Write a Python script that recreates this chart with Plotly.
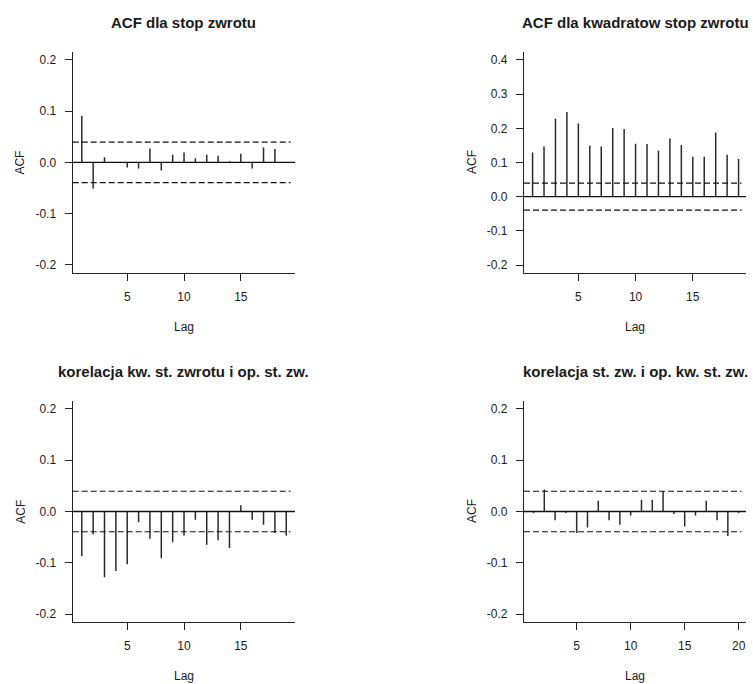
import plotly.graph_objects as go

# ---------------- data ----------------
lags_19 = list(range(1, 20))
lags_20 = list(range(1, 21))

acf_returns = [0.091, -0.051, 0.010, 0.000, -0.010, -0.012, 0.027, -0.016, 0.015, 0.019,
               0.008, 0.015, 0.013, 0.002, 0.017, -0.012, 0.029, 0.026, 0.000]
acf_sq_returns = [0.129, 0.147, 0.228, 0.248, 0.214, 0.150, 0.147, 0.201, 0.198, 0.155,
                  0.154, 0.134, 0.170, 0.151, 0.117, 0.117, 0.188, 0.123, 0.110]
ccf_sq_lag_ret = [-0.087, -0.045, -0.128, -0.116, -0.103, -0.021, -0.053, -0.091, -0.060, -0.047,
                  -0.016, -0.065, -0.056, -0.071, 0.012, -0.016, -0.026, -0.042, -0.047]
ccf_ret_lag_sq = [-0.003, 0.043, -0.017, -0.003, -0.042, -0.031, 0.021, -0.017, -0.026, -0.008,
                  0.023, 0.023, 0.040, -0.005, -0.029, -0.008, 0.021, -0.017, -0.048, -0.003]

conf_band = 0.0395

titles = ["ACF dla stop zwrotu", "ACF dla kwadratow stop zwrotu",
          "korelacja kw. st. zwrotu i op. st. zw.", "korelacja st. zw. i op. kw. st. zw."]
y_title = "ACF"
x_title = "Lag"

panels = [
    dict(lags=lags_19, vals=acf_returns, yr=[-0.216, 0.216], yt=[-0.2, -0.1, 0.0, 0.1, 0.2],
         xr=[0.2, 19.77], xt=[5, 10, 15]),
    dict(lags=lags_19, vals=acf_sq_returns, yr=[-0.224, 0.424], yt=[-0.2, -0.1, 0.0, 0.1, 0.2, 0.3, 0.4],
         xr=[0.25, 19.65], xt=[5, 10, 15]),
    dict(lags=lags_19, vals=ccf_sq_lag_ret, yr=[-0.216, 0.216], yt=[-0.2, -0.1, 0.0, 0.1, 0.2],
         xr=[0.2, 19.77], xt=[5, 10, 15]),
    dict(lags=lags_20, vals=ccf_ret_lag_sq, yr=[-0.216, 0.216], yt=[-0.2, -0.1, 0.0, 0.1, 0.2],
         xr=[0.12, 20.68], xt=[5, 10, 15, 20]),
]

# ---------------- layout geometry (pixels) ----------------
W, H = 753, 684
boxes = [  # left, right, top, bottom in px
    (72.7, 295.0, 51.7, 273.0),
    (524.0, 746.0, 51.7, 273.3),
    (72.7, 295.0, 400.7, 622.3),
    (524.0, 746.0, 400.7, 622.3),
]

FONT = "Liberation Sans, Arial, sans-serif"
INK = "#1a1a1a"
fig = go.Figure()
layout = dict(width=W, height=H, margin=dict(l=0, r=0, t=0, b=0),
              paper_bgcolor="white", plot_bgcolor="white", showlegend=False,
              font=dict(family=FONT, size=12, color=INK))
annotations = []
shapes = []

for i, (p, b) in enumerate(zip(panels, boxes)):
    n = i + 1
    xa = "xaxis" if n == 1 else f"xaxis{n}"
    ya = "yaxis" if n == 1 else f"yaxis{n}"
    xref = "x" if n == 1 else f"x{n}"
    yref = "y" if n == 1 else f"y{n}"
    l, r, t, bt = b
    layout[xa] = dict(domain=[l / W, r / W], range=p["xr"], tickvals=p["xt"],
                      showgrid=False, zeroline=False, showline=True, linecolor="#222",
                      linewidth=1.3, ticks="outside", ticklen=7, tickwidth=1.3,
                      tickcolor="#222", ticklabelstandoff=5, anchor=yref,
                      tickfont=dict(size=12, color=INK, family=FONT))
    layout[ya] = dict(domain=[1 - bt / H, 1 - t / H], range=p["yr"], tickvals=p["yt"],
                      ticktext=[f"{v:.1f}" for v in p["yt"]],
                      showgrid=False, zeroline=False, showline=True, linecolor="#222",
                      linewidth=1.3, ticks="outside", ticklen=7, tickwidth=1.3,
                      tickcolor="#222", ticklabelstandoff=6, anchor=xref,
                      tickfont=dict(size=12, color=INK, family=FONT))

    # spikes
    xs, ys = [], []
    for lag, v in zip(p["lags"], p["vals"]):
        xs += [lag, lag, None]
        ys += [0, v, None]
    fig.add_trace(go.Scatter(x=xs, y=ys, mode="lines", xaxis=xref, yaxis=yref,
                             line=dict(color="#2b2b2b", width=1.5), hoverinfo="skip"))

    # zero line and confidence bands
    shapes.append(dict(type="line", xref=f"{xref} domain", yref=yref, x0=0, x1=1, y0=0, y1=0,
                       line=dict(color="#111", width=1.3)))
    for s in (conf_band, -conf_band):
        shapes.append(dict(type="line", xref=f"{xref} domain", yref=yref, x0=0, x1=0.98,
                           y0=s, y1=s, line=dict(color="#111", width=1.2, dash="6px,3px")))

    cx = (l + r) / 2
    ty = t - 29.5
    annotations.append(dict(text=f"<b>{titles[i]}</b>", xref="paper", yref="paper",
                            x=cx / W, y=1 - ty / H, showarrow=False, xanchor="center",
                            yanchor="middle", font=dict(size=15, family=FONT, color=INK)))
    annotations.append(dict(text=x_title, xref="paper", yref="paper",
                            x=cx / W, y=1 - (bt + 54) / H, showarrow=False,
                            xanchor="center", yanchor="middle",
                            font=dict(size=12, family=FONT, color=INK)))
    annotations.append(dict(text=y_title, xref="paper", yref="paper",
                            x=(l - 52.5) / W, y=1 - ((t + bt) / 2) / H, showarrow=False,
                            textangle=-90, xanchor="center", yanchor="middle",
                            font=dict(size=12, family=FONT, color=INK)))

layout["annotations"] = annotations
layout["shapes"] = shapes
fig.update_layout(**layout)
fig.write_html("out.html")
